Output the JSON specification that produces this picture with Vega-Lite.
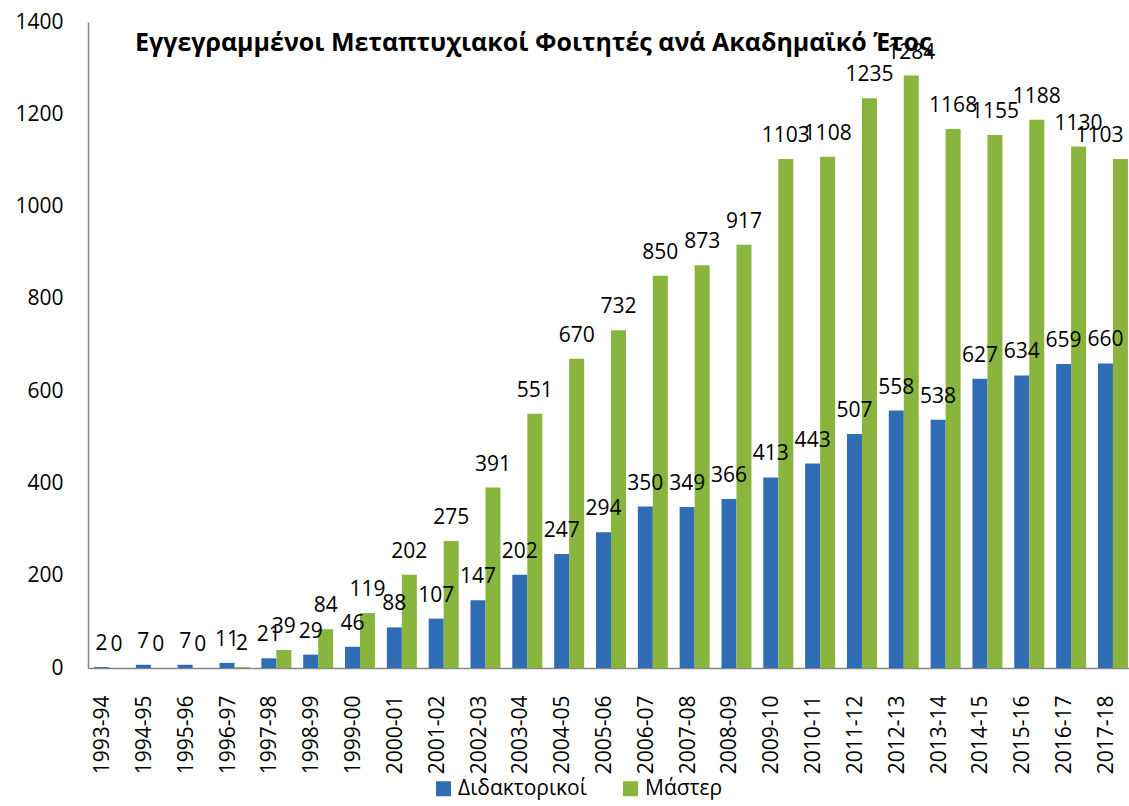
{
  "$schema": "https://vega.github.io/schema/vega-lite/v6.json",
  "width": 1041,
  "height": 646,
  "autosize": {"type": "none"},
  "padding": {"left": 88, "top": 22, "right": 0, "bottom": 138},
  "background": "white",
  "title": {
    "text": "Εγγεγραμμένοι Μεταπτυχιακοί Φοιτητές ανά Ακαδημαϊκό Έτος",
    "orient": "none",
    "anchor": "start",
    "frame": "group",
    "dx": 47,
    "dy": 29,
    "baseline": "alphabetic",
    "font": "Open Sans",
    "fontSize": 25,
    "fontWeight": "bold",
    "color": "#000000"
  },
  "data": {
    "values": [
      {"year": "1993-94", "type": "Διδακτορικοί", "value": 2},
      {"year": "1993-94", "type": "Μάστερ", "value": 0},
      {"year": "1994-95", "type": "Διδακτορικοί", "value": 7},
      {"year": "1994-95", "type": "Μάστερ", "value": 0},
      {"year": "1995-96", "type": "Διδακτορικοί", "value": 7},
      {"year": "1995-96", "type": "Μάστερ", "value": 0},
      {"year": "1996-97", "type": "Διδακτορικοί", "value": 11},
      {"year": "1996-97", "type": "Μάστερ", "value": 2},
      {"year": "1997-98", "type": "Διδακτορικοί", "value": 21},
      {"year": "1997-98", "type": "Μάστερ", "value": 39},
      {"year": "1998-99", "type": "Διδακτορικοί", "value": 29},
      {"year": "1998-99", "type": "Μάστερ", "value": 84},
      {"year": "1999-00", "type": "Διδακτορικοί", "value": 46},
      {"year": "1999-00", "type": "Μάστερ", "value": 119},
      {"year": "2000-01", "type": "Διδακτορικοί", "value": 88},
      {"year": "2000-01", "type": "Μάστερ", "value": 202},
      {"year": "2001-02", "type": "Διδακτορικοί", "value": 107},
      {"year": "2001-02", "type": "Μάστερ", "value": 275},
      {"year": "2002-03", "type": "Διδακτορικοί", "value": 147},
      {"year": "2002-03", "type": "Μάστερ", "value": 391},
      {"year": "2003-04", "type": "Διδακτορικοί", "value": 202},
      {"year": "2003-04", "type": "Μάστερ", "value": 551},
      {"year": "2004-05", "type": "Διδακτορικοί", "value": 247},
      {"year": "2004-05", "type": "Μάστερ", "value": 670},
      {"year": "2005-06", "type": "Διδακτορικοί", "value": 294},
      {"year": "2005-06", "type": "Μάστερ", "value": 732},
      {"year": "2006-07", "type": "Διδακτορικοί", "value": 350},
      {"year": "2006-07", "type": "Μάστερ", "value": 850},
      {"year": "2007-08", "type": "Διδακτορικοί", "value": 349},
      {"year": "2007-08", "type": "Μάστερ", "value": 873},
      {"year": "2008-09", "type": "Διδακτορικοί", "value": 366},
      {"year": "2008-09", "type": "Μάστερ", "value": 917},
      {"year": "2009-10", "type": "Διδακτορικοί", "value": 413},
      {"year": "2009-10", "type": "Μάστερ", "value": 1103},
      {"year": "2010-11", "type": "Διδακτορικοί", "value": 443},
      {"year": "2010-11", "type": "Μάστερ", "value": 1108},
      {"year": "2011-12", "type": "Διδακτορικοί", "value": 507},
      {"year": "2011-12", "type": "Μάστερ", "value": 1235},
      {"year": "2012-13", "type": "Διδακτορικοί", "value": 558},
      {"year": "2012-13", "type": "Μάστερ", "value": 1284},
      {"year": "2013-14", "type": "Διδακτορικοί", "value": 538},
      {"year": "2013-14", "type": "Μάστερ", "value": 1168},
      {"year": "2014-15", "type": "Διδακτορικοί", "value": 627},
      {"year": "2014-15", "type": "Μάστερ", "value": 1155},
      {"year": "2015-16", "type": "Διδακτορικοί", "value": 634},
      {"year": "2015-16", "type": "Μάστερ", "value": 1188},
      {"year": "2016-17", "type": "Διδακτορικοί", "value": 659},
      {"year": "2016-17", "type": "Μάστερ", "value": 1130},
      {"year": "2017-18", "type": "Διδακτορικοί", "value": 660},
      {"year": "2017-18", "type": "Μάστερ", "value": 1103}
    ]
  },
  "encoding": {
    "x": {
      "field": "year",
      "type": "nominal",
      "sort": null,
      "scale": {"paddingInner": 0.283, "paddingOuter": 0.085, "align": 0.85},
      "axis": {
        "title": null,
        "labelAngle": -90,
        "labelFont": "Open Sans",
        "labelFontSize": 21,
        "labelColor": "#000000",
        "labelPadding": 27,
        "labelOffset": -6,
        "ticks": false,
        "domainColor": "#868686",
        "domainWidth": 1.5,
        "grid": false
      }
    },
    "xOffset": {
      "field": "type",
      "type": "nominal",
      "sort": ["Διδακτορικοί", "Μάστερ"],
      "scale": {"paddingInner": 0, "paddingOuter": 0}
    },
    "y": {
      "field": "value",
      "type": "quantitative",
      "scale": {"domain": [0, 1400], "nice": false},
      "axis": {
        "title": null,
        "values": [0, 200, 400, 600, 800, 1000, 1200, 1400],
        "format": "d",
        "labelFont": "Open Sans",
        "labelFontSize": 21,
        "labelColor": "#000000",
        "labelPadding": 25,
        "ticks": false,
        "grid": false,
        "domainColor": "#868686",
        "domainWidth": 1.5
      }
    }
  },
  "layer": [
    {
      "mark": {"type": "bar"},
      "encoding": {
        "color": {
          "field": "type",
          "type": "nominal",
          "sort": ["Διδακτορικοί", "Μάστερ"],
          "scale": {"domain": ["Διδακτορικοί", "Μάστερ"], "range": ["#2f6cb4", "#89b43e"]},
          "legend": {
            "title": null,
            "orient": "none",
            "direction": "horizontal",
            "legendX": 345,
            "legendY": 756,
            "padding": 0,
            "symbolType": "square",
            "symbolSize": 225,
            "symbolStrokeWidth": 0,
            "labelFont": "Open Sans",
            "labelFontSize": 21,
            "labelColor": "#000000",
            "labelOffset": 4,
            "columnPadding": 33
          }
        }
      }
    },
    {
      "transform": [{"filter": "!(datum.year == '2017-18' && datum.type == 'Μάστερ')"}],
      "mark": {
        "type": "text",
        "baseline": "alphabetic",
        "align": "center",
        "dy": -17,
        "font": "Open Sans",
        "fontSize": 21,
        "color": "#000000"
      },
      "encoding": {
        "text": {"field": "value", "type": "quantitative"}
      }
    },
    {
      "transform": [{"filter": "datum.year == '2017-18' && datum.type == 'Μάστερ'"}],
      "mark": {
        "type": "text",
        "baseline": "alphabetic",
        "align": "center",
        "dx": -21,
        "dy": -17,
        "font": "Open Sans",
        "fontSize": 21,
        "color": "#000000"
      },
      "encoding": {
        "text": {"field": "value", "type": "quantitative"}
      }
    }
  ],
  "config": {
    "view": {"stroke": null}
  }
}
